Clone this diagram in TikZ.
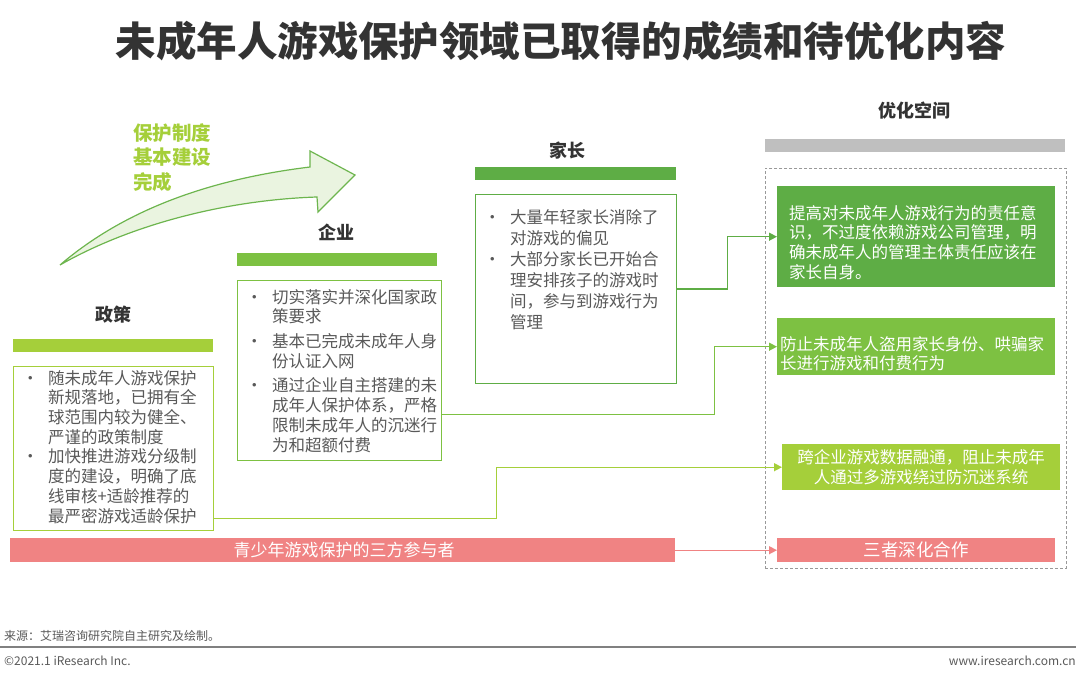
\documentclass[tikz,border=0pt]{standalone}
\usepackage{fontspec}
\setmainfont{Noto Sans CJK SC}
\usetikzlibrary{arrows.meta}
\definecolor{cA}{HTML}{A5CF3A}
\definecolor{cB}{HTML}{7DC142}
\definecolor{cC}{HTML}{5EAD45}
\definecolor{pinkc}{HTML}{F08383}
\definecolor{txt}{HTML}{595959}
\definecolor{ttl}{HTML}{333333}
\definecolor{grayb}{HTML}{BFBFBF}
\definecolor{arrfill}{HTML}{EAF4E0}
\definecolor{arrline}{HTML}{6DB54E}
\newcommand\bl{\makebox[26pt][l]{•}}
\newcommand\ih{\hspace*{26pt}}
\tikzset{
  bar/.style={anchor=north west,inner sep=0pt,minimum height=13pt},
  box/.style={anchor=north west,inner sep=0pt,draw,line width=1.2pt,fill=white},
  head/.style={font=\fontsize{18}{20}\selectfont\bfseries,text=ttl},
  body/.style={anchor=north west,inner sep=0pt,align=left,text=txt,font=\fontsize{16.5}{19.7}\selectfont},
  wbody/.style={inner sep=0pt,text=white,font=\fontsize{16.5}{19.7}\selectfont},
  conn/.style={line width=1.4pt,-{Triangle[length=8pt,width=8pt]}},
}
\begin{document}
\begin{tikzpicture}[x=1pt,y=-1pt]
\useasboundingbox (0,0) rectangle (1080,682);
% title
\node[font=\fontsize{40.5}{42}\selectfont\bfseries,text=ttl] (title) at (561,41) {未成年人游戏保护领域已取得的成绩和待优化内容};
% curved arrow
\draw[line width=1.2pt,draw=arrline,fill=arrfill,line join=miter]
  (60,265) .. controls (130,205) and (220,178) .. (310,167)
  -- (310,151) -- (355,175) -- (318,212) -- (317,197)
  .. controls (225,200) and (130,225) .. (60,265) -- cycle;
\node[anchor=north west,inner sep=0pt,align=left,text=cA,font=\fontsize{19.5}{24.5}\selectfont\bfseries] (milestone) at (133,123) {保护制度\\基本建设\\完成};
% policy
\node[head] (hzc) at (113,315) {政策};
\node[bar,fill=cA,minimum width=200pt] (barzc) at (13,339) {};
\node[box,draw=cA,minimum width=200pt,minimum height=164pt] (zcbox) at (13,366) {};
\node[body] (zctext) at (22,370) {\bl 随未成年人游戏保护\\\ih 新规落地，已拥有全\\\ih 球范围内较为健全、\\\ih 严谨的政策制度\\\bl 加快推进游戏分级制\\\ih 度的建设，明确了底\\\ih 线审核+适龄推荐的\\\ih 最严密游戏适龄保护};
% enterprise
\node[head] (hqy) at (336,232) {企业};
\node[bar,fill=cB,minimum width=200pt] (barqy) at (237,253) {};
\node[box,draw=cB,minimum width=204pt,minimum height=180pt] (qybox) at (237,280) {};
\node[body] (qytext) at (246,289) {\bl 切实落实并深化国家政\\\ih 策要求\\[5pt]\bl 基本已完成未成年人身\\\ih 份认证入网\\[5pt]\bl 通过企业自主搭建的未\\\ih 成年人保护体系，严格\\\ih 限制未成年人的沉迷行\\\ih 为和超额付费};
% parents
\node[head] (hjz) at (567,151) {家长};
\node[bar,fill=cC,minimum width=201pt] (barjz) at (475,167) {};
\node[box,draw=cC,minimum width=201pt,minimum height=189pt] (jzbox) at (475,194) {};
\node[body,font=\fontsize{16.5}{21}\selectfont] (jztext) at (484,209) {\bl 大量年轻家长消除了\\\ih 对游戏的偏见\\\bl 大部分家长已开始合\\\ih 理安排孩子的游戏时\\\ih 间，参与到游戏行为\\\ih 管理};
% optimisation
\node[head] (hyh) at (914,111) {优化空间};
\node[bar,fill=grayb,minimum width=300pt] (baryh) at (765,139) {};
\node[anchor=north west,inner sep=0pt,draw=grayb!80!black,dashed,dash pattern=on 3pt off 2pt,line width=0.8pt,minimum width=301pt,minimum height=400pt] (dashbox) at (765,168) {};
\node[anchor=north west,fill=cC,minimum width=278pt,minimum height=101pt,inner sep=0pt] (g1) at (777,186) {};
\node[wbody,anchor=north west,align=left] (g1t) at (789,205) {提高对未成年人游戏行为的责任意\\识，不过度依赖游戏公司管理，明\\确未成年人的管理主体责任应该在\\家长自身。};
\node[anchor=north west,fill=cB,minimum width=278pt,minimum height=57pt,inner sep=0pt] (g2) at (777,318) {};
\node[wbody,anchor=north west,align=left] (g2t) at (780,336) {防止未成年人盗用家长身份、哄骗家\\长进行游戏和付费行为};
\node[anchor=north west,fill=cA,minimum width=278pt,minimum height=46pt,inner sep=0pt,align=center] (g3) at (782,444) {};
\node[wbody,align=center] (g3t) at (g3) {跨企业游戏数据融通，阻止未成年\\人通过多游戏绕过防沉迷系统};
% pink bars
\node[anchor=north west,fill=pinkc,minimum width=665pt,minimum height=24pt,inner sep=0pt] (pinkbar) at (10,538) {};
\node[wbody,font=\fontsize{17}{20}\selectfont] (pinkt) at (344,550) {青少年游戏保护的三方参与者};
\node[anchor=north west,fill=pinkc,minimum width=278pt,minimum height=24pt,inner sep=0pt] (pinkbox) at (777,538) {};
\node[wbody,font=\fontsize{17.5}{20}\selectfont] (pinkboxt) at (pinkbox) {三者深化合作};
% connectors
\draw[conn,cC] (jzbox.east) -- ++(50,0) |- (g1.west);
\draw[conn,cB] ([yshift=47pt]qybox.south east) -- ++(272,0) |- (g2.west);
\draw[conn,cA] ([yshift=13pt]zcbox.south east) -- ++(282,0) |- (g3.west);
\draw[conn,pinkc] (pinkbar.east) -- (pinkbox.west);
% footer
\node[anchor=west,inner sep=0pt,text=txt,font=\fontsize{12}{14}\selectfont] (src) at (4,636) {来源：艾瑞咨询研究院自主研究及绘制。};
\coordinate (fl) at (0,647);
\coordinate (fr) at (1076,647);
\draw[line width=1.6pt,draw=gray] (fl) -- (fr);
\node[anchor=west,inner sep=0pt,text=txt,font=\fontsize{12}{14}\selectfont] (copy) at (4,661) {©2021.1 iResearch Inc.};
\node[anchor=east,inner sep=0pt,text=txt,font=\fontsize{12}{14}\selectfont] (web) at (1076,661) {www.iresearch.com.cn};
\end{tikzpicture}
\end{document}
